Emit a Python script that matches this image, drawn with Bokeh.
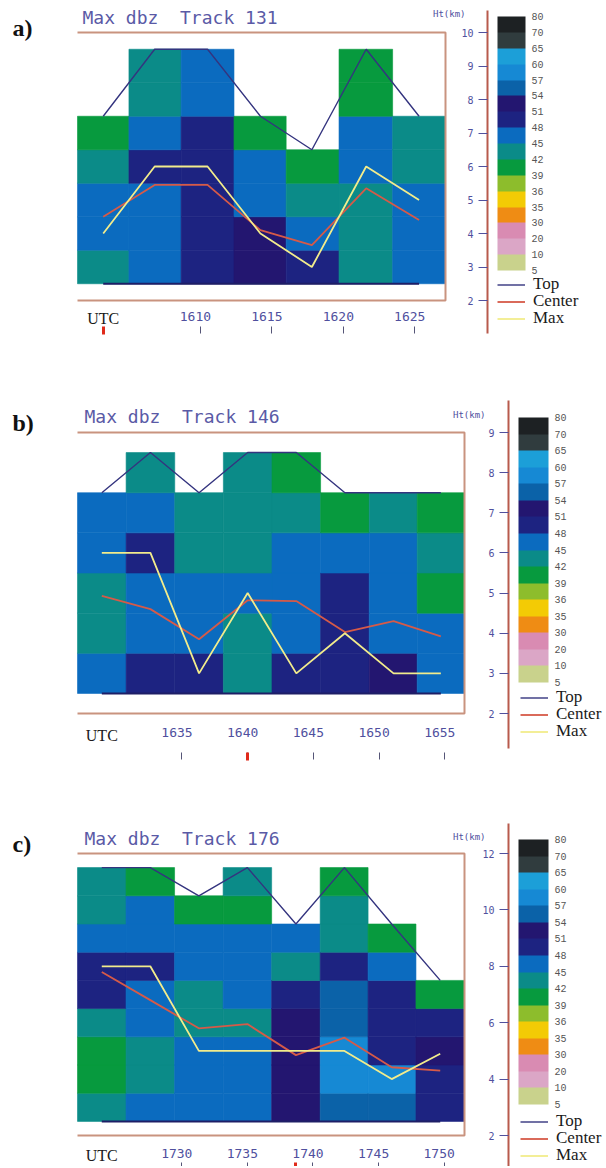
import numpy as np
from bokeh.plotting import figure
from bokeh.models import (ColumnDataSource, LinearAxis, FixedTicker, Label, ColorBar,
                          LinearColorMapper, Legend, LegendItem, Range1d)
from bokeh.layouts import column
from bokeh.embed import file_html
from bokeh.resources import INLINE

# ---------------- colour scale (dBZ) ----------------
dbz_edges = [5, 10, 20, 30, 35, 36, 39, 42, 45, 48, 51, 54, 57, 60, 65, 70, 80]
dbz_colors = ["#c9d28c", "#dba6c6", "#d98bb2", "#ef8c14", "#f3cb05", "#8dbd2c",
              "#079a3e", "#0b8b88", "#0b6bbf", "#1d2381", "#231670", "#0b62a8",
              "#1689d4", "#1c9fd8", "#303c3e", "#1d2123"]

# ---------------- panel a : Track 131 ----------------
a_track = 131
a_times = [1603.2, 1606.8, 1610.5, 1614.2, 1617.8, 1621.6, 1625.3]
a_base = [2.5, 2.5, 2.5, 2.5, 2.5, 2.5, 2.5]
a_top = [7.5, 9.5, 9.5, 7.5, 6.5, 9.5, 7.5]
a_center = [4.5, 5.45, 5.45, 4.1, 3.65, 5.35, 4.4]
a_max = [4, 6, 6, 4, 3, 6, 5]
a_dbz = [
    [42, 45, 45, 42, 39],
    [45, 45, 45, 48, 45, 42, 42],
    [48, 48, 48, 48, 48, 45, 45],
    [51, 51, 45, 45, 39],
    [48, 45, 42, 39],
    [42, 42, 42, 45, 45, 39, 39],
    [45, 45, 45, 42, 42],
]
a_now = 0
a_xticks = [1610, 1615, 1620, 1625]
a_yticks = [2, 3, 4, 5, 6, 7, 8, 9, 10]
a_yrange = [2, 10]

# ---------------- panel b : Track 146 ----------------
b_track = 146
b_times = [1628.9, 1632.6, 1636.3, 1640.0, 1643.7, 1647.4, 1651.1, 1654.7]
b_base = [2.5, 2.5, 2.5, 2.5, 2.5, 2.5, 2.5, 2.5]
b_top = [7.5, 8.5, 7.5, 8.5, 8.5, 7.5, 7.5, 7.5]
b_center = [4.93, 4.6, 3.85, 4.82, 4.8, 4.03, 4.3, 3.92]
b_max = [6, 6, 3, 5, 3, 4, 3, 3]
b_dbz = [
    [45, 42, 42, 45, 45],
    [48, 45, 45, 48, 45, 42],
    [48, 45, 45, 42, 42],
    [42, 42, 45, 42, 42, 42],
    [48, 45, 45, 45, 42, 39],
    [48, 48, 48, 45, 39],
    [51, 45, 45, 45, 42],
    [45, 45, 39, 42, 39],
]
b_now = 3
b_xticks = [1635, 1640, 1645, 1650, 1655]
b_yticks = [2, 3, 4, 5, 6, 7, 8, 9]
b_yrange = [2, 9]

# ---------------- panel c : Track 176 ----------------
c_track = 176
c_times = [1723.9, 1727.6, 1731.3, 1735.0, 1738.7, 1742.4, 1746.0, 1749.7]
c_base = [2.5, 2.5, 2.5, 2.5, 2.5, 2.5, 2.5, 2.5]
c_top = [11.5, 11.5, 10.5, 11.5, 9.5, 11.5, 9.5, 7.5]
c_center = [7.8, 6.8, 5.8, 5.95, 4.85, 5.47, 4.42, 4.3]
c_max = [8, 8, 5, 5, 5, 5, 4, 4.9]
c_dbz = [
    [42, 39, 39, 42, 48, 48, 45, 42, 42],
    [45, 42, 42, 45, 45, 48, 45, 45, 39],
    [45, 45, 45, 42, 42, 45, 45, 39],
    [45, 45, 45, 42, 45, 45, 45, 39, 42],
    [51, 51, 51, 51, 48, 42, 45],
    [54, 57, 57, 54, 54, 48, 42, 42, 39],
    [54, 57, 48, 48, 48, 45, 39],
    [48, 48, 51, 48, 39],
]
c_now = 4
c_xticks = [1730, 1735, 1740, 1745, 1750]
c_yticks = [2, 4, 6, 8, 10, 12]
c_yrange = [2, 12]

series_names = ["Top", "Center", "Max"]

# ---------------- page geometry (pixels on the page) ----------------
W = 604
X0 = 0  # page x of the canvas' left edge
geo_a = dict(top=0, H=385, bx0=77, bx1=445, by0=32, by1=300, ax=487, ay0=10, ay1=333,
             tx=82, ty=17, lx=12, ly=27, htx=465, hty=13, labgap=11, ticky=326,
             utcy=318, cbx=497, cbw=28, cby0=16.5, cby1=270, lgx=497, lgy=284)
geo_b = dict(top=385, H=420, bx0=77, bx1=464, by0=432, by1=713, ax=508, ay0=400, ay1=748,
             tx=84, ty=416, lx=12, ly=422, htx=485, hty=414, labgap=14, ticky=752,
             utcy=735, cbx=518, cbw=30, cby0=417, cby1=682, lgx=520, lgy=697)
geo_c = dict(top=805, H=361, bx0=77, bx1=464, by0=853, by1=1135, ax=508, ay0=823, ay1=1166,
             tx=84, ty=838, lx=12, ly=843, htx=485, hty=836, labgap=13, ticky=1162,
             utcy=1155, cbx=518, cbw=30, cby0=839, cby1=1104, lgx=520, lgy=1121)

MONO = "DejaVu Sans Mono"
SERIF = "Liberation Serif"
LABEL_BLUE = "#50509e"
BOX = "#c9937f"
AXIS_RED = "#b85a4c"


def panel(letter, track, times, base, top, center, mx, dbz, now, xticks, yticks, yr, g):
    t = np.array(times, dtype=float)
    mids = (t[1:] + t[:-1]) / 2.0
    edges = np.concatenate([[t[0] - (t[1] - t[0]) / 2.0], mids,
                            [t[-1] + (t[-1] - t[-2]) / 2.0]])
    ylo, yhi = yr
    ppm = (g["bx1"] - g["bx0"]) / (edges[-1] - edges[0])
    ppk = (g["by1"] - g["by0"]) / (yhi - ylo)

    def X(px):
        return edges[0] + (px - g["bx0"]) / ppm

    def Y(py):
        return ylo + (g["by1"] - py) / ppk

    T, H = g["top"], g["H"]
    p = figure(width=W, height=H, x_range=Range1d(X(X0), X(X0 + W)),
               y_range=Range1d(Y(T + H), Y(T)), x_axis_location=None,
               y_axis_location=None, toolbar_location=None, output_backend="svg",
               min_border=0, min_border_left=0, min_border_right=0,
               min_border_top=0, min_border_bottom=0,
               outline_line_color=None, background_fill_color="white",
               border_fill_color="white")
    p.grid.visible = False

    # reflectivity cells
    L, R, B, TT, C = [], [], [], [], []
    for i, col in enumerate(dbz):
        for j, v in enumerate(col):
            L.append(edges[i]); R.append(edges[i + 1])
            B.append(base[i] + j); TT.append(base[i] + j + 1)
            C.append(dbz_colors[dbz_edges.index(v)])
    src = ColumnDataSource(dict(l=L, r=R, b=B, t=TT, c=C))
    p.quad(left="l", right="r", bottom="b", top="t", fill_color="c",
           line_color="c", line_width=0.6, source=src)

    # frame (top, right, bottom)
    p.line(x=[edges[0], edges[-1], edges[-1], edges[0]], y=[yhi, yhi, ylo, ylo],
           line_color=BOX, line_width=2)

    # series
    p.line(times, base, line_color="#1e1e66", line_width=2)
    r_top = p.line(times, top, line_color="#34347f", line_width=1.4)
    r_cen = p.line(times, center, line_color="#d65a48", line_width=1.8)
    r_max = p.line(times, mx, line_color="#f2ec8c", line_width=1.8)

    # height axis
    yax = LinearAxis(fixed_location=X(g["ax"]), bounds=(Y(g["ay1"]), Y(g["ay0"])),
                     ticker=FixedTicker(ticks=yticks, minor_ticks=[]),
                     major_tick_in=0, major_tick_out=9, major_label_standoff=5,
                     axis_line_color=AXIS_RED, axis_line_width=2,
                     major_tick_line_color=LABEL_BLUE, minor_tick_line_color=None,
                     major_label_text_font=MONO, major_label_text_font_size="10px",
                     major_label_text_color=LABEL_BLUE)
    p.add_layout(yax, "left")

    # time labels (drawn slightly left of their ticks, as in the source)
    shift = 5.0 / ppm
    lab_ticks = [xt - shift for xt in xticks]
    xlab = LinearAxis(fixed_location=ylo,
                      ticker=FixedTicker(ticks=lab_ticks, minor_ticks=[]),
                      major_label_overrides={lt: str(xt) for lt, xt in zip(lab_ticks, xticks)},
                      axis_line_color=None, major_tick_line_color=None,
                      minor_tick_line_color=None, major_tick_in=0, major_tick_out=0,
                      major_label_standoff=g["labgap"], major_label_text_font=MONO,
                      major_label_text_font_size="13px", major_label_text_color=LABEL_BLUE)
    p.add_layout(xlab, "below")

    xtk = LinearAxis(fixed_location=Y(g["ticky"]),
                     ticker=FixedTicker(ticks=xticks, minor_ticks=[times[now]]),
                     major_label_overrides={xt: "" for xt in xticks},
                     axis_line_color=None, major_tick_in=0, major_tick_out=7,
                     major_tick_line_color="#555577", minor_tick_in=0, minor_tick_out=8,
                     minor_tick_line_color="#e02a1a", minor_tick_line_width=3,
                     major_label_text_font_size="1px")
    p.add_layout(xtk, "below")

    # texts
    p.add_layout(Label(x=X(g["tx"]), y=Y(g["ty"]), text=f"Max dbz\u00a0\u00a0Track {track}",
                       text_font=MONO, text_font_size="18px", text_color="#5a5aa6",
                       text_baseline="middle", text_align="left"))
    p.add_layout(Label(x=X(g["lx"]), y=Y(g["ly"]), text=letter, text_font=SERIF,
                       text_font_size="24px", text_font_style="bold", text_color="#111111",
                       text_baseline="middle", text_align="left"))
    p.add_layout(Label(x=X(g["htx"]), y=Y(g["hty"]), text="Ht(km)", text_font=MONO,
                       text_font_size="9px", text_color=LABEL_BLUE,
                       text_baseline="middle", text_align="right"))
    p.add_layout(Label(x=times[0], y=Y(g["utcy"]), text="UTC", text_font=SERIF,
                       text_font_size="16px", text_color="#1a1a1a",
                       text_baseline="middle", text_align="center"))

    # colour bar
    mapper = LinearColorMapper(palette=dbz_colors, low=0, high=len(dbz_colors))
    cb = ColorBar(color_mapper=mapper,
                  ticker=FixedTicker(ticks=list(range(len(dbz_edges))), minor_ticks=[]),
                  major_label_overrides={i: str(v) for i, v in enumerate(dbz_edges)},
                  width=g["cbw"], height=int(round(g["cby1"] - g["cby0"])),
                  location=(g["cbx"] - X0, T + H - g["cby1"]), padding=0, margin=0,
                  label_standoff=6, major_tick_line_color=None, minor_tick_line_color=None,
                  bar_line_color=None, border_line_color=None, background_fill_alpha=0,
                  major_label_text_font="Liberation Mono", major_label_text_font_size="10px",
                  major_label_text_color="#555555")
    p.add_layout(cb)

    # legend: one entry per row, 17 px apart (item box is 20 px tall)
    pitch, item_h = 17, 20
    for k, (name, rend) in enumerate(zip(series_names, [r_top, r_cen, r_max])):
        yc = g["lgy"] + k * pitch
        leg = Legend(items=[LegendItem(label=name, renderers=[rend])],
                     location=(g["lgx"] - X0, T + H - (yc + item_h / 2)),
                     glyph_width=28, glyph_height=17, label_height=17, label_standoff=8,
                     spacing=0, padding=0, margin=0, border_line_color=None,
                     background_fill_alpha=0, label_text_font=SERIF,
                     label_text_font_size="17px", label_text_color="#1a1a1a")
        p.add_layout(leg)
    return p


pa = panel("a)", a_track, a_times, a_base, a_top, a_center, a_max, a_dbz, a_now,
           a_xticks, a_yticks, a_yrange, geo_a)
pb = panel("b)", b_track, b_times, b_base, b_top, b_center, b_max, b_dbz, b_now,
           b_xticks, b_yticks, b_yrange, geo_b)
pc = panel("c)", c_track, c_times, c_base, c_top, c_center, c_max, c_dbz, c_now,
           c_xticks, c_yticks, c_yrange, geo_c)

layout = column(pa, pb, pc, spacing=0)
open("out.html", "w").write(file_html(layout, INLINE))
